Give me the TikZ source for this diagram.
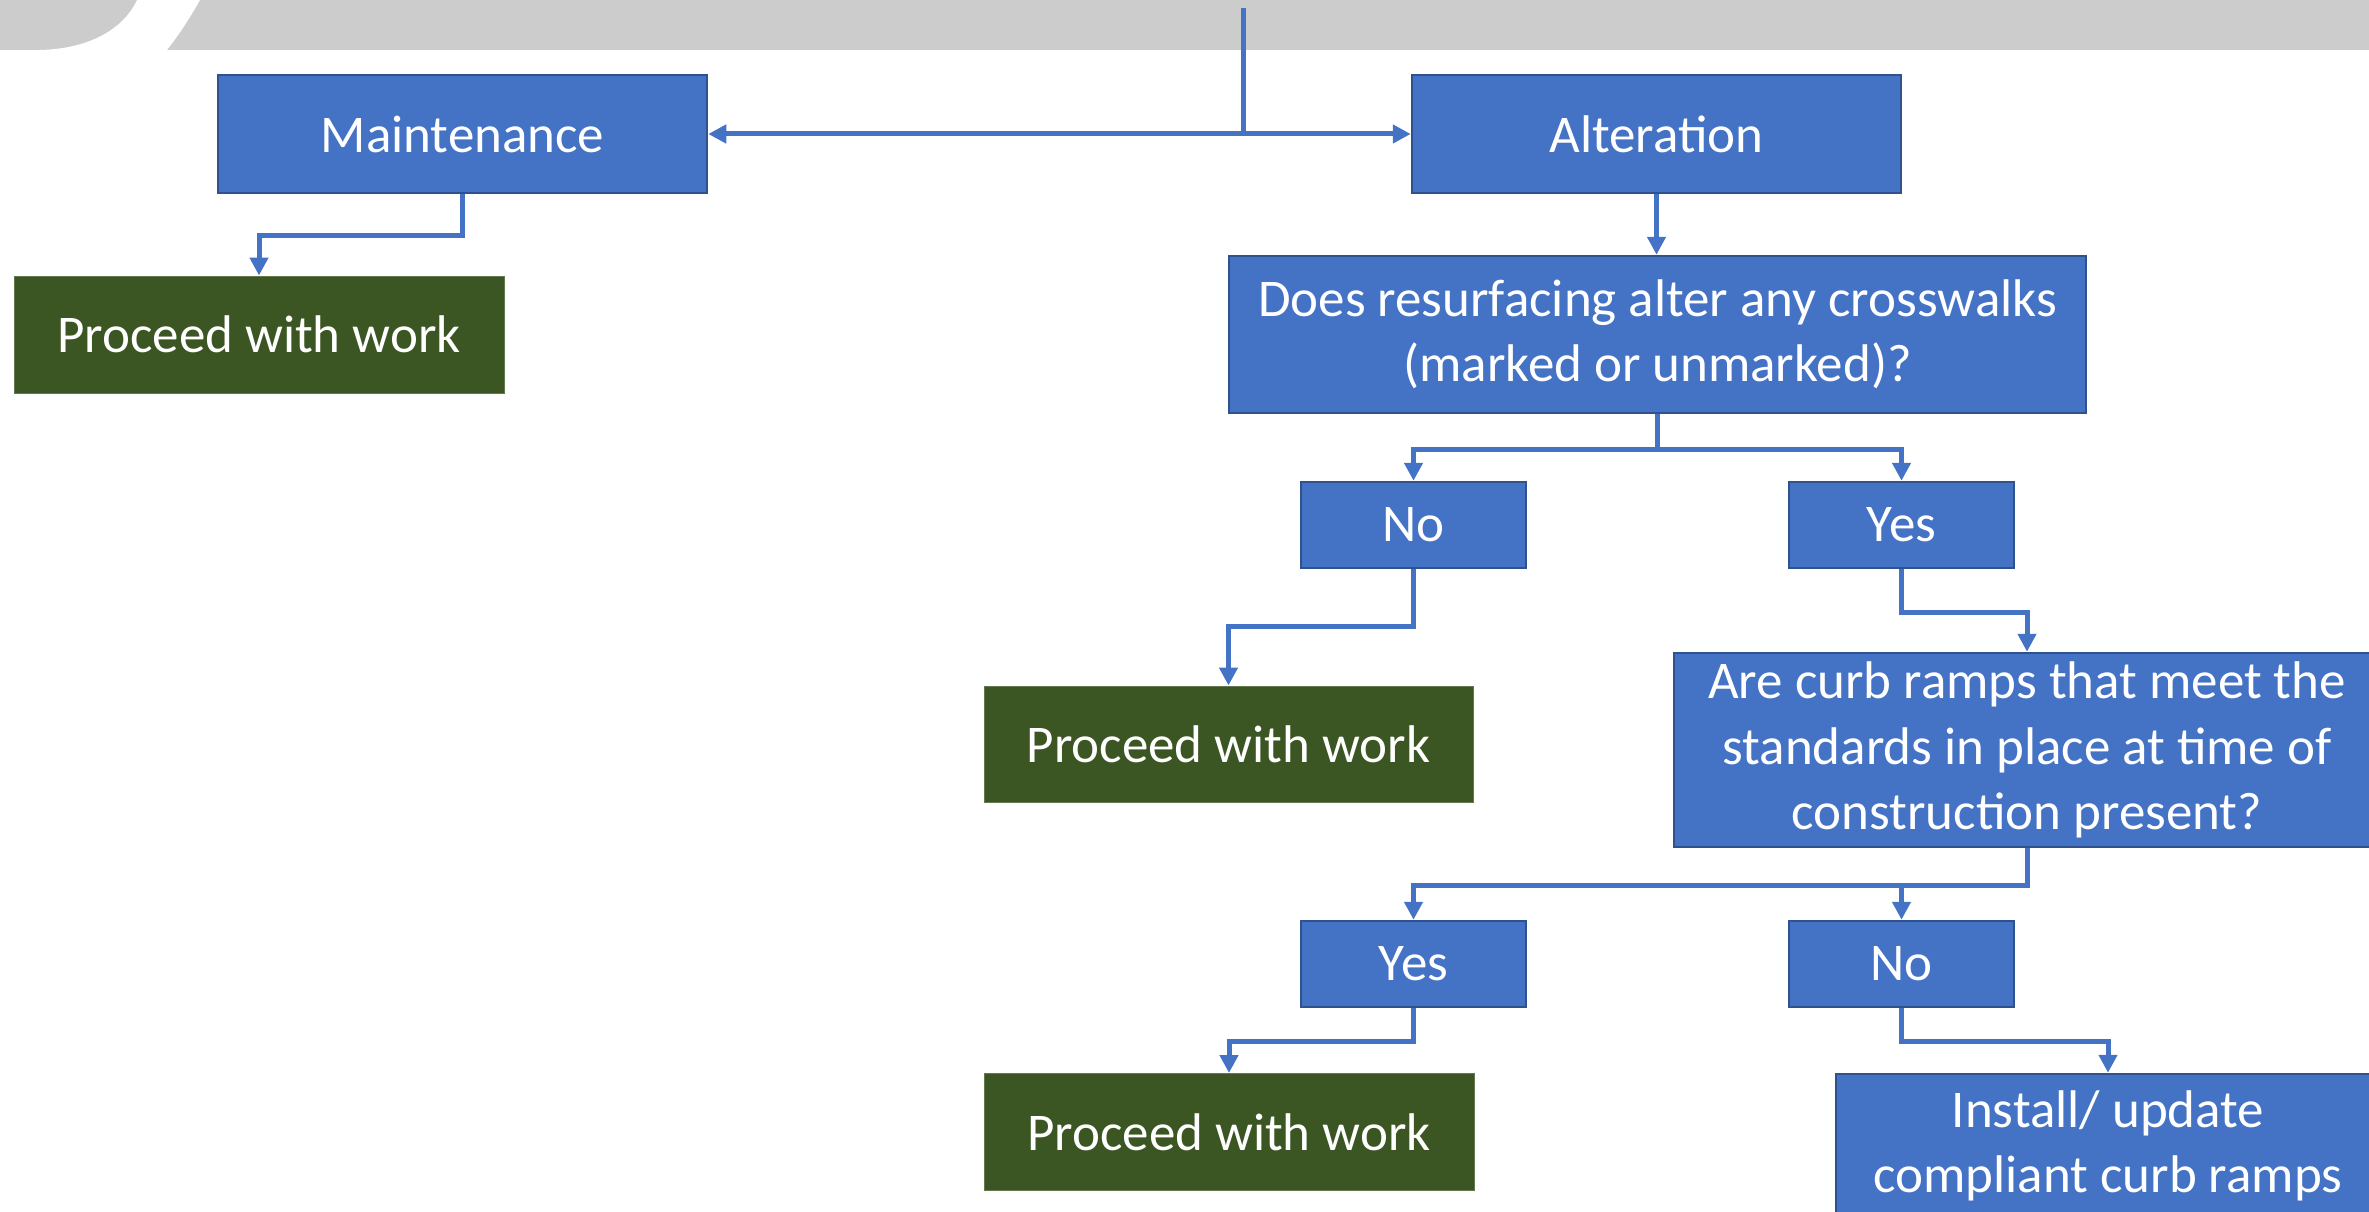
\documentclass[tikz,border=0pt]{standalone}
\usepackage{fontspec}
\setmainfont{Carlito}
\usetikzlibrary{arrows.meta}
\definecolor{boxblue}{HTML}{4472C4}
\definecolor{boxedge}{HTML}{2F528F}
\definecolor{boxgreen}{HTML}{3B5623}
\definecolor{bandgray}{HTML}{CCCCCC}
\begin{document}
\begin{tikzpicture}[x=1pt,y=-1pt,
  bluebox/.style={draw=boxedge, line width=2.5pt, fill=boxblue, text=white, inner sep=0pt,
    font=\fontsize{53}{65.5}\selectfont, align=center},
  greenbox/.style={draw=boxgreen!80!white, line width=1pt, fill=boxgreen, text=white, inner sep=0pt,
    font=\fontsize{53}{65.5}\selectfont, align=center},
  conn/.style={draw=boxblue, line width=5pt, -{Triangle[length=18pt,width=18pt]}},
  plain/.style={draw=boxblue, line width=5pt}]
\useasboundingbox (0,0) rectangle (2369,1212);
\clip (0,0) rectangle (2369,1212);
% top band
\fill[bandgray] (0,0) rectangle (2369,50);
\fill[white] (137,0) -- (200,0) .. controls (190,18) and (178,36) .. (167,50) -- (40,50)
  .. controls (85,49) and (122,32) .. (137,0) -- cycle;
% nodes
\node[bluebox, minimum width=489pt, minimum height=118pt] (maint) at (462.5,134) {Maintenance};
\node[bluebox, minimum width=489pt, minimum height=118pt] (alt) at (1656.5,134) {Alteration};
\node[greenbox, minimum width=490pt, minimum height=117pt] (p1) at (259,334.5) {Proceed with work};
\node[bluebox, minimum width=857pt, minimum height=157pt] (q1) at (1657.5,334.5)
  {Does resurfacing alter any crosswalks\\(marked or unmarked)?};
\node[bluebox, minimum width=225pt, minimum height=86pt] (no1) at (1413.5,525) {No};
\node[bluebox, minimum width=225pt, minimum height=86pt] (yes1) at (1901.5,525) {Yes};
\node[greenbox, minimum width=489pt, minimum height=116pt] (p2) at (1228.5,744) {Proceed with work};
\node[bluebox, minimum width=706pt, minimum height=194pt] (q2) at (2027,750)
  {Are curb ramps that meet the\\standards in place at time of\\construction present?};
\node[bluebox, minimum width=225pt, minimum height=86pt] (yes2) at (1413.5,964) {Yes};
\node[bluebox, minimum width=225pt, minimum height=86pt] (no2) at (1901.5,964) {No};
\node[greenbox, minimum width=490pt, minimum height=117pt] (p3) at (1229,1132) {Proceed with work};
\node[bluebox, minimum width=544pt, minimum height=144pt] (inst) at (2108,1146)
  {Install/ update\\compliant curb ramps};
% connectors
\coordinate (top) at (1243,8);
\draw[plain] (top) -- (top |- maint.east);
\draw[conn, {Triangle[length=18pt,width=18pt]}-{Triangle[length=18pt,width=18pt]}] (maint.east) -- (alt.west);
\draw[conn] (maint.south) -- ++(0,41) -| (p1.north);
\draw[conn] (alt.south) -- (alt.south |- q1.north);
\draw[conn] (q1.south) -- ++(0,35) -| (no1.north);
\draw[conn] (q1.south) -- ++(0,35) -| (yes1.north);
\draw[conn] (no1.south) -- ++(0,57) -| (p2.north);
\draw[conn] (yes1.south) -- ++(0,43) -| (q2.north);
\draw[conn] (q2.south) -- ++(0,37) -| (yes2.north);
\draw[conn] (q2.south) -- ++(0,37) -| (no2.north);
\draw[conn] (yes2.south) -- ++(0,33) -| (p3.north);
\draw[conn] (no2.south) -- ++(0,33) -| (inst.north);
\end{tikzpicture}
\end{document}
